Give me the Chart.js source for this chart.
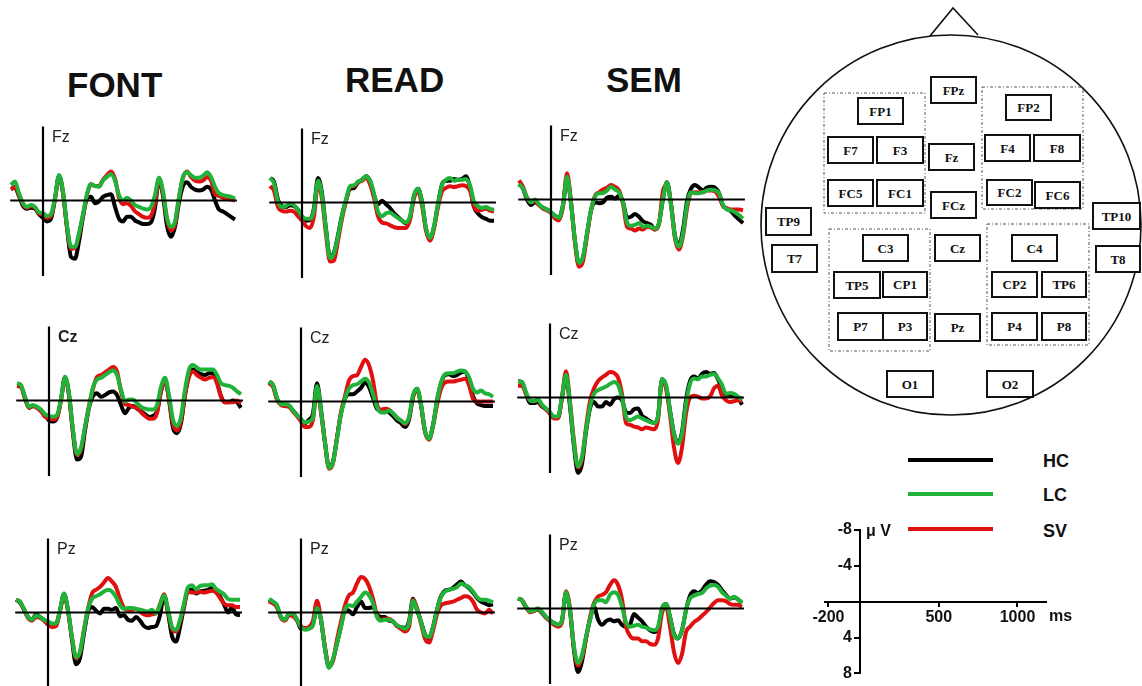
<!DOCTYPE html>
<html>
<head>
<meta charset="utf-8">
<script src="https://cdn.jsdelivr.net/npm/chart.js@4.4.1/dist/chart.umd.min.js"></script>
<style>
html,body{margin:0;padding:0;background:#fff;overflow:hidden;}
body{width:1142px;height:686px;position:relative;font-family:"Liberation Sans",Arial,sans-serif;}
.title{position:absolute;font-weight:bold;font-size:35px;line-height:35px;color:#111;white-space:nowrap;}
.lgline{position:absolute;width:85px;height:4px;}
.lgtxt{position:absolute;font-weight:bold;font-size:18px;line-height:20px;color:#111;}
.pan{position:absolute;}
</style>
</head>
<body>
<div class="title" style="left:67px;top:67px;">FONT</div>
<div class="title" style="left:345px;top:62px;">READ</div>
<div class="title" style="left:606px;top:62px;">SEM</div>

<svg id="head" width="1142" height="686" style="position:absolute;left:0;top:0;"></svg>

<div class="lgline" style="left:908px;top:458px;background:#000;"></div>
<div class="lgline" style="left:908px;top:492px;background:#1fb33a;"></div>
<div class="lgline" style="left:908px;top:527px;background:#e01010;"></div>
<div class="lgtxt" style="left:1043px;top:451px;">HC</div>
<div class="lgtxt" style="left:1043px;top:485px;">LC</div>
<div class="lgtxt" style="left:1043px;top:521px;">SV</div>

<script>
// ---------- DATA ----------
const times = [-200,-175,-150,-125,-100,-75,-50,-25,0,25,50,75,100,125,150,175,200,225,250,275,300,325,350,375,400,425,450,475,500,525,550,575,600,625,650,675,700,725,750,775,800,825,850,875,900,925,950,975,1000,1025,1050,1075,1100,1125,1150,1175,1200];

const conditions = ['FONT','READ','SEM'];
const electrodes = ['Fz','Cz','Pz'];
const groups = ['HC','LC','SV'];

// FONT
const fontFzLC = [-1.7,-2.1,-0.8,0.3,0.7,0.5,0.7,1.3,1.4,1.7, 1.5,-0.3,-2.8,-1.0,2.7,5.1,5.1,3.6,1.5,-0.7, -1.8,-1.6,-1.5,-2.2,-2.6,-2.9,-2.2,-0.6,0.0,-0.3, 0.0,0.5,0.7,0.9,1.0,0.7,-0.6,-2.5,-1.0,1.9, 2.9,2.3,-0.4,-2.6,-3.1,-2.8,-2.5,-2.5,-2.7,-3.1, -2.6,-1.5,-0.8,-0.6,-0.5,-0.4,-0.2];
const fontFzSV = [-1.2,-1.5,-0.6,0.4,0.8,0.6,0.8,1.4,1.6,1.9, 1.7,-0.2,-2.7,-0.9,2.9,5.3,5.2,3.8,1.6,-0.6, -1.8,-1.6,-1.6,-2.3,-2.8,-3.2,-2.4,-0.3,0.4,0.3, 0.6,1.2,1.5,1.8,1.9,1.7,0.2,-2.4,-0.8,2.1, 3.3,2.6,-0.3,-2.5,-3.2,-2.6,-2.2,-2.1,-2.2,-2.6, -2.2,-0.7,-0.5,-0.3,-0.2,-0.1,0.0];
const fontFzHC = [-1.3,-1.4,-0.5,0.6,0.9,0.8,0.9,1.5,1.9,2.3, 2.0,-0.2,-2.7,-0.8,3.0,6.2,6.4,4.5,1.8,-0.2, -0.4,0.3,0.1,-0.4,-0.6,-0.7,0.7,2.0,2.3,1.8, 1.8,2.2,2.4,2.6,2.6,2.4,0.8,-2.3,-0.5,2.8, 4.0,2.9,0.2,-1.6,-2.0,-1.5,-1.2,-1.1,-1.2,-1.5, -1.2,0.0,1.0,1.2,1.5,1.8,2.1];

const fontCzLC = [-1.9,-1.7,-0.4,0.7,0.5,0.7,1.0,1.5,1.7,1.8, 1.6,-0.1,-2.6,-0.8,3.2,5.9,5.2,2.9,0.7,-1.5, -2.3,-2.5,-2.8,-3.1,-3.3,-2.8,-1.2,0.1,-0.1,-0.1, 0.3,0.7,0.9,1.0,1.0,0.5,-1.5,-2.5,-0.6,2.1, 2.8,1.8,-1.2,-3.4,-3.9,-3.6,-3.4,-3.4,-3.4,-3.4, -2.8,-1.9,-1.7,-1.6,-1.4,-1.0,-0.7];
const fontCzSV = [-1.6,-1.5,-0.2,0.8,0.6,0.8,1.2,1.8,2.0,2.1, 1.9,0.0,-2.5,-0.6,3.4,6.0,5.4,3.0,0.6,-1.3, -2.6,-2.8,-3.1,-3.4,-3.7,-3.2,-1.0,0.4,0.5,0.7, 0.8,1.3,1.7,2.0,2.0,1.4,-1.1,-2.3,-0.2,2.6, 3.3,2.2,-0.6,-2.6,-3.2,-2.8,-2.5,-2.3,-2.5,-2.6, -1.9,-0.4,0.2,0.2,0.2,0.0,0.3];
const fontCzHC = [-1.6,-1.5,-0.3,0.8,0.6,0.8,1.1,1.6,2.2,2.3, 1.9,-0.1,-2.6,-0.6,3.6,6.5,6.2,3.3,0.8,-0.5, -0.8,-0.4,-0.6,-0.9,-1.0,-0.6,0.5,1.4,0.8,0.6, 0.9,1.2,1.5,1.8,1.7,1.2,-1.0,-2.2,-0.1,3.0, 3.6,2.5,-0.6,-2.7,-3.4,-3.1,-2.9,-2.8,-3.0,-3.0, -2.0,-0.5,0.2,0.2,0.0,0.2,0.8];

const fontPzLC = [-1.4,-1.2,-0.4,0.5,0.8,0.3,0.5,0.8,1.0,1.2, 1.2,-0.3,-2.1,-0.3,2.7,4.9,4.3,1.9,-0.4,-1.5, -1.8,-2.0,-2.3,-2.5,-2.3,-1.7,-0.8,-0.4,-0.5,-0.5, -0.4,-0.3,-0.2,-0.1,-0.3,0.1,-0.8,-1.9,-0.4,1.6, 1.9,0.8,-1.0,-2.8,-3.0,-2.6,-2.9,-3.0,-3.0,-3.1, -2.6,-2.3,-2.0,-1.5,-1.4,-1.4,-1.4];
const fontPzSV = [-1.4,-1.2,-0.3,0.6,0.9,0.5,0.6,0.9,1.3,1.6, 1.5,-0.2,-2.0,-0.2,2.8,5.0,4.4,1.9,-0.4,-2.1, -2.5,-2.8,-3.3,-3.8,-3.4,-2.8,-1.5,-0.5,-0.3,-0.3, -0.4,-0.1,0.2,0.3,0.2,0.1,-0.9,-2.0,-0.2,1.8, 2.1,1.0,-0.8,-2.3,-2.2,-2.2,-2.3,-2.2,-2.3,-2.4, -2.2,-1.6,-1.0,-0.8,-0.8,-0.6,-0.6];
const fontPzHC = [-1.4,-1.1,-0.3,0.5,0.8,0.2,0.5,0.8,1.3,1.5, 1.4,-0.2,-2.0,-0.2,3.0,5.7,5.0,2.3,-0.1,-0.6, -0.2,0.1,-0.4,-0.4,-0.3,-0.5,0.4,0.3,0.8,0.9, 0.5,0.9,1.5,1.7,1.6,1.5,0.3,-1.9,0.0,2.6, 3.2,1.6,-0.6,-2.4,-2.5,-2.1,-2.3,-2.4,-2.5,-2.7, -2.4,-1.8,-0.9,0.0,-0.6,0.2,0.3];

// READ
const readFzLC = [-2.7,-2.1,-0.1,0.5,0.4,0.1,0.3,0.8,1.5,1.8, 1.8,0.8,-2.4,-0.8,3.0,6.1,5.6,3.7,1.5,-0.3, -1.8,-1.9,-2.3,-2.5,-2.9,-2.4,-1.0,1.0,1.5,1.2, 1.1,1.4,1.7,2.0,2.2,1.5,-0.8,-1.5,-0.1,2.8, 3.9,2.6,0.1,-1.9,-2.5,-2.7,-2.4,-2.5,-2.5,-2.6, -1.9,-0.1,0.4,0.6,0.5,0.7,0.8];
const readFzSV = [-1.8,-1.3,0.5,0.9,1.0,0.9,1.0,1.5,2.0,2.6, 2.8,1.5,-2.0,-0.4,3.5,6.5,6.4,4.2,1.8,-0.1, -1.7,-1.8,-2.2,-2.4,-2.7,-2.0,-0.5,1.5,2.2,2.3, 2.5,2.7,2.8,2.8,2.8,1.9,-0.5,-1.2,0.3,3.1, 4.2,2.9,0.5,-1.2,-1.6,-1.8,-1.7,-1.8,-1.9,-1.8, -1.3,0.4,0.9,0.8,0.7,0.9,1.0];
const readFzHC = [-2.7,-2.3,-0.3,0.4,0.5,0.3,0.4,0.8,1.6,2.0, 1.9,0.6,-2.7,-1.0,2.9,6.0,5.5,3.6,1.4,-0.2, -1.5,-1.6,-2.2,-2.5,-2.9,-2.4,-0.8,0.2,-0.2,0.2, 0.6,1.2,1.6,2.0,2.3,1.7,-0.7,-1.5,-0.1,2.9, 4.0,2.7,0.2,-2.0,-2.4,-2.4,-2.6,-2.5,-2.6,-2.9, -1.7,0.5,1.2,1.6,1.8,2.0,2.0];

const readCzLC = [-2.2,-1.8,-0.4,0.3,0.3,0.4,1.0,1.5,1.9,2.3, 2.2,1.7,-1.7,1.0,4.5,7.3,6.7,4.1,1.4,-0.3, -1.4,-1.8,-1.9,-2.2,-2.5,-2.1,-0.8,0.6,1.2,1.2, 1.0,1.3,1.8,2.1,2.4,1.7,-0.7,-1.4,0.3,3.2, 4.1,2.6,-0.1,-2.1,-3.0,-3.1,-3.1,-3.3,-3.4,-3.3, -2.7,-1.4,-1.0,-1.2,-0.9,-0.8,-0.5];
const readCzSV = [-2.0,-1.6,-0.2,0.4,0.5,0.6,1.1,1.6,2.2,2.8, 2.8,2.0,-1.3,1.2,4.6,7.4,6.8,4.0,1.2,-0.6, -2.3,-2.8,-2.9,-3.8,-4.6,-4.0,-2.3,0.3,0.9,0.8, 0.9,1.3,1.8,2.1,2.5,1.8,-0.5,-1.3,0.4,3.3, 4.2,2.7,0.4,-1.4,-2.1,-2.2,-2.2,-2.3,-2.4,-2.5, -1.8,-0.3,0.0,0.0,0.0,0.0,0.0];
const readCzHC = [-2.2,-1.8,-0.3,0.3,0.4,0.5,1.0,1.5,2.0,2.4, 2.0,1.3,-2.0,0.9,4.5,7.2,6.6,4.0,1.3,-0.3, -0.8,-0.8,-1.1,-1.5,-2.1,-1.6,-0.4,0.8,1.0,1.0, 1.2,1.6,2.1,2.4,2.8,2.0,-0.5,-1.4,0.4,3.3, 4.1,2.6,-0.1,-2.0,-2.9,-3.0,-2.8,-2.9,-3.2,-3.3, -2.3,-0.6,0.2,0.4,0.5,0.5,0.5];

const readPzLC = [-1.5,-1.2,-0.8,0.5,0.8,0.1,0.1,0.8,1.6,1.9, 1.8,1.4,-0.5,0.8,4.0,6.1,5.1,3.4,1.6,-0.3, -0.8,-0.7,-1.2,-1.7,-2.2,-1.9,-1.0,0.5,0.9,0.8, 0.8,1.0,1.4,1.6,1.8,1.2,-1.3,-0.3,1.0,2.5, 2.7,1.6,-0.3,-1.7,-2.3,-2.5,-2.6,-2.8,-3.2,-3.0, -2.8,-2.3,-1.7,-1.4,-1.4,-1.3,-1.1];
const readPzSV = [-1.2,-1.0,-0.6,0.6,0.9,0.3,0.4,0.9,1.5,1.7, 1.6,0.9,-1.3,0.8,3.8,5.9,5.3,3.0,1.0,-0.8, -1.9,-2.2,-3.2,-3.9,-3.7,-2.9,-1.5,0.3,0.8,0.7, 0.7,1.0,1.5,1.8,2.1,1.6,-1.4,-0.5,1.2,2.9, 3.3,2.0,0.2,-0.8,-1.0,-1.1,-1.2,-1.4,-1.6,-1.8, -1.7,-1.2,-0.3,0.0,0.1,-0.3,0.1];
const readPzHC = [-1.4,-1.1,-0.6,0.5,0.8,0.2,0.2,0.8,1.8,1.8, 1.7,1.2,-0.4,0.8,4.0,6.0,5.2,3.4,1.5,-0.3, -0.2,0.2,-0.6,-1.2,-0.5,-0.5,-0.6,0.2,0.5,0.5, 0.9,1.0,1.5,1.6,1.7,1.0,-1.5,-0.3,1.0,2.4, 2.8,1.6,-0.3,-1.8,-2.4,-2.5,-2.7,-3.1,-3.4,-3.0, -2.7,-2.2,-1.6,-1.2,-1.0,-0.8,-0.9];

// SEM
const semFzLC = [-1.7,-1.2,-0.2,0.3,0.0,0.5,0.9,1.1,1.4,1.8, 2.0,0.6,-2.5,0.4,4.5,7.0,6.3,3.7,1.2,-0.3, -0.7,-0.7,-1.0,-1.4,-1.1,-0.8,0.3,2.5,2.9,2.8, 2.6,3.0,2.9,3.0,3.2,2.6,-0.1,-1.9,0.6,4.1, 5.2,3.7,0.6,-0.8,-0.7,-0.7,-0.8,-1.0,-1.1,-1.0, -0.7,0.6,1.1,1.2,1.4,1.7,2.1];
const semFzSV = [-2.1,-1.4,-0.2,0.3,0.2,0.6,1.0,1.2,1.5,2.1, 2.3,0.8,-2.9,0.2,4.8,7.4,6.8,4.0,1.2,-0.4, -0.8,-1.1,-1.3,-1.6,-1.4,-1.0,0.5,3.0,3.2,3.4, 3.2,3.3,3.0,3.1,3.3,2.7,-1.0,-1.6,0.5,4.3, 5.5,4.0,1.0,-0.7,-0.8,-0.8,-0.8,-1.0,-1.0,-0.9, -0.3,0.7,1.0,1.1,1.1,1.1,1.2];
const semFzHC = [-1.7,-1.2,0.0,0.6,0.3,0.6,0.9,1.1,1.4,1.8, 2.0,0.6,-2.4,0.4,4.6,7.2,6.4,3.8,1.2,0.3, 0.4,0.3,-0.2,-0.3,-0.1,-0.4,0.3,2.0,1.9,1.6, 1.9,2.4,2.6,2.8,3.3,2.6,-0.1,-1.9,0.5,4.0, 5.0,3.3,0.2,-1.2,-1.6,-1.3,-1.0,-1.3,-1.4,-1.3, -0.7,0.7,1.0,1.3,1.8,2.2,2.6];

const semCzLC = [-1.8,-1.7,-0.6,0.3,0.4,0.2,0.8,1.2,1.6,2.1, 2.1,-0.1,-2.5,0.7,5.1,7.6,6.5,3.6,1.0,-0.4, -0.8,-1.0,-1.2,-1.5,-1.7,-1.4,0.0,2.1,2.5,2.3, 2.1,2.3,2.5,2.7,2.8,2.1,-2.0,-1.4,1.4,4.0, 5.1,4.0,0.7,-1.5,-2.1,-2.0,-2.3,-2.3,-2.5,-2.6, -2.1,-1.4,-0.4,-0.5,-0.4,-0.1,0.2];
const semCzSV = [-1.3,-1.3,-0.4,0.3,0.4,0.3,0.9,1.3,1.8,2.3, 2.3,0.0,-2.9,0.5,4.8,7.7,6.8,3.3,0.4,-1.0, -1.8,-2.2,-2.5,-2.8,-2.7,-2.2,-0.4,2.8,3.0,3.2, 3.3,3.5,3.3,3.4,3.5,2.5,-2.0,-1.0,1.9,5.5, 7.2,5.5,1.8,0.0,-0.2,-0.1,0.1,0.1,-0.1,-1.0, -1.3,-0.2,0.3,0.5,0.4,0.3,0.4];
const semCzHC = [-1.8,-1.7,-0.4,0.6,0.6,0.5,1.0,1.3,1.7,2.2, 2.2,0.0,-2.3,1.0,5.4,8.3,7.3,3.8,1.2,0.5, 1.0,1.0,0.5,0.8,0.2,0.0,0.3,1.6,1.7,1.3, 1.2,2.0,2.3,2.6,2.8,2.1,-2.0,-1.2,1.4,4.0, 5.0,3.8,0.3,-1.8,-2.3,-2.1,-2.6,-2.8,-2.6,-2.7, -2.0,-1.0,-0.3,-0.3,-0.2,0.0,0.8];

const semPzLC = [-1.1,-0.9,-0.2,0.3,0.2,0.0,0.4,0.9,1.3,1.6, 1.8,1.3,-1.8,0.2,4.2,6.0,5.1,3.1,1.3,-0.4, -0.9,-0.9,-0.7,-1.5,-1.8,-1.5,-0.2,1.5,2.0,1.9, 1.8,2.0,2.1,2.3,2.4,2.0,0.0,-0.5,0.9,2.9, 3.3,2.4,0.2,-1.1,-1.4,-1.6,-1.7,-2.2,-2.5,-2.6, -2.4,-1.8,-1.4,-1.1,-1.3,-1.0,-0.6];
const semPzSV = [-1.1,-0.9,-0.2,0.4,0.3,0.0,0.4,1.0,1.4,1.8, 2.0,1.5,-1.9,0.0,4.4,6.3,5.4,3.3,1.0,-0.6, -1.3,-1.5,-1.8,-2.6,-3.1,-2.6,-1.0,2.0,3.0,3.3, 3.3,3.6,3.6,3.9,4.0,3.3,0.5,-0.2,2.0,4.8, 6.0,5.0,2.6,2.0,1.5,1.2,0.8,0.4,-0.1,-0.6, -0.9,-0.9,-0.8,-0.5,-0.4,-0.4,-0.2];
const semPzHC = [-1.1,-0.9,-0.1,0.3,0.2,0.1,0.5,1.0,1.3,1.6, 1.8,1.3,-1.7,0.3,4.6,7.0,5.8,3.3,1.2,-0.2, 1.2,1.8,1.4,1.2,1.4,1.3,1.8,2.0,1.8,0.6, 1.0,1.4,2.0,2.4,2.6,2.3,0.0,-0.5,0.9,2.8, 3.3,2.4,0.2,-1.4,-1.9,-1.7,-2.0,-2.6,-3.0,-2.9, -2.6,-2.0,-1.5,-1.1,-1.2,-1.0,-0.6];

// calibration scale
const scaleTimeTicks = [-200, 500, 1000];
const scaleVoltTicks = [-8, -4, 4, 8];

// ---------- LAYOUT ----------
const COLORS = {HC:'#000000', LC:'#1fb33a', SV:'#e01010'};
const panels = [
  {label:'Fz', bold:false, x0:43.3,  y0:200.7, HC:fontFzHC, LC:fontFzLC, SV:fontFzSV},
  {label:'Fz', bold:false, x0:302.3, y0:202.7, HC:readFzHC, LC:readFzLC, SV:readFzSV},
  {label:'Fz', bold:false, x0:550.7, y0:199.3, HC:semFzHC,  LC:semFzLC,  SV:semFzSV},
  {label:'Cz', bold:true,  x0:49.0,  y0:400.7, HC:fontCzHC, LC:fontCzLC, SV:fontCzSV},
  {label:'Cz', bold:false, x0:300.7, y0:401.0, HC:readCzHC, LC:readCzLC, SV:readCzSV},
  {label:'Cz', bold:false, x0:550.0, y0:397.3, HC:semCzHC,  LC:semCzLC,  SV:semCzSV},
  {label:'Pz', bold:false, x0:48.3,  y0:612.3, HC:fontPzHC, LC:fontPzLC, SV:fontPzSV},
  {label:'Pz', bold:false, x0:301.0, y0:612.3, HC:readPzHC, LC:readPzLC, SV:readPzSV},
  {label:'Pz', bold:false, x0:550.0, y0:608.3, HC:semPzHC,  LC:semPzLC,  SV:semPzSV}
];

const PAD = 6, PXW = 224, PXH = 149;
const axisPlugin = {
  id:'erpAxes',
  afterDatasetsDraw(chart, args, opts){
    const ctx = chart.ctx, xs = chart.scales.x, ys = chart.scales.y;
    const zx = xs.getPixelForValue(0), zy = ys.getPixelForValue(0);
    ctx.save();
    ctx.strokeStyle = '#000'; ctx.lineWidth = 2.2; ctx.lineCap = 'butt';
    ctx.beginPath();
    ctx.moveTo(xs.getPixelForValue(-205), zy); ctx.lineTo(xs.getPixelForValue(1212), zy);
    ctx.moveTo(zx, ys.getPixelForValue(-8.15)); ctx.lineTo(zx, ys.getPixelForValue(8.3));
    ctx.stroke();
    ctx.fillStyle = '#222';
    ctx.font = (opts.bold ? 'bold ' : '') + '16px "Liberation Sans", Arial, sans-serif';
    ctx.textBaseline = 'alphabetic'; ctx.textAlign = 'left';
    ctx.fillText(opts.label, zx + 9, zy - 59);
    ctx.restore();
  }
};

panels.forEach(p => {
  const div = document.createElement('div');
  div.className = 'pan';
  div.style.left = Math.round(p.x0 - 32 - PAD) + 'px';
  div.style.top = Math.round(p.y0 - 74.5 - PAD) + 'px';
  div.style.width = (PXW + 2*PAD) + 'px';
  div.style.height = (PXH + 2*PAD) + 'px';
  const cv = document.createElement('canvas');
  div.appendChild(cv);
  document.body.appendChild(div);
  const ds = ['LC','SV','HC'].map(g => ({
    label: g,
    data: times.map((t,i) => ({x:t, y:p[g][i]})),
    borderColor: COLORS[g],
    borderWidth: 4,
    pointRadius: 0,
    fill: false,
    cubicInterpolationMode: 'monotone',
    clip: 8
  }));
  new Chart(cv, {
    type:'line',
    data:{datasets:ds},
    options:{
      responsive:true, maintainAspectRatio:false, animation:false, events:[],
      layout:{padding:PAD},
      plugins:{legend:{display:false}, tooltip:{enabled:false}, erpAxes:{label:p.label, bold:p.bold}},
      scales:{
        x:{type:'linear', min:-200, max:1200, display:false},
        y:{type:'linear', min:-8.2, max:8.2, reverse:true, display:false}
      }
    },
    plugins:[axisPlugin]
  });
});

// ---------- calibration scale ----------
(function(){
  const div = document.createElement('div');
  div.className = 'pan';
  const padL = 45, padR = 40, padT = 12, padB = 8;
  div.style.left = (825 - padL) + 'px';
  div.style.top = (530 - padT) + 'px';
  div.style.width = (221 + padL + padR) + 'px';
  div.style.height = (147 + padT + padB) + 'px';
  const cv = document.createElement('canvas');
  div.appendChild(cv);
  document.body.appendChild(div);
  const tickFont = {family:'"Liberation Sans", Arial, sans-serif', weight:'bold', size:16};
  const extra = {
    id:'scaleExtra',
    afterDraw(chart){
      const ctx = chart.ctx, xs = chart.scales.x, ys = chart.scales.y;
      ctx.save();
      ctx.fillStyle = '#111';
      ctx.font = 'bold 16px "Liberation Sans", Arial, sans-serif';
      ctx.textAlign = 'left'; ctx.textBaseline = 'top';
      ctx.fillText('ms', xs.right + 3, ys.getPixelForValue(0) + 7);
      ctx.textBaseline = 'middle';
      ctx.fillText('\u03bc V', xs.getPixelForValue(0) + 6, ys.getPixelForValue(-8) + 2);
      ctx.restore();
    }
  };
  new Chart(cv, {
    type:'line',
    data:{datasets:[]},
    options:{
      responsive:true, maintainAspectRatio:false, animation:false, events:[],
      layout:{padding:{left:padL, right:padR, top:padT, bottom:padB}},
      plugins:{legend:{display:false}, tooltip:{enabled:false}},
      scales:{
        x:{type:'linear', min:-222, max:1181, position:{y:0},
           afterBuildTicks: s => { s.ticks = scaleTimeTicks.map(v => ({value:v})); },
           ticks:{font:tickFont, color:'#111', padding:2, autoSkip:false, maxRotation:0, callback:v => String(v)},
           grid:{drawOnChartArea:false, drawTicks:true, tickLength:4, color:'#000', lineWidth:2},
           border:{display:true, color:'#000', width:2}},
        y:{type:'linear', min:-8, max:8, reverse:true, position:{x:0},
           afterBuildTicks: s => { s.ticks = scaleVoltTicks.map(v => ({value:v})); },
           ticks:{font:tickFont, color:'#111', padding:2, autoSkip:false, callback:v => String(v) + '\u2002'},
           grid:{drawOnChartArea:false, drawTicks:true, tickLength:5, color:'#000', lineWidth:2},
           border:{display:true, color:'#000', width:2}}
      }
    },
    plugins:[extra]
  });
})();

// ---------- head map ----------
const electrodeLabels = ['FPz','FP1','FP2','F7','F3','Fz','F4','F8','FC5','FC1','FCz','FC2','FC6','TP9','T7','TP10','T8','C3','Cz','C4','TP5','CP1','CP2','TP6','P7','P3','Pz','P4','P8','O1','O2'];
const electrodeBoxes = [[931,77,976,103],[858,98,903,124],[1006,95,1051,120],[828,137,873,163],[877,137,923,163],[929,144,974,170],[985,135,1030,161],[1034,135,1080,161],[828,180,873,206],[877,180,923,206],[931,192,976,218],[987,180,1032,205],[1035,182,1080,208],[766,208,811,235],[772,245,817,272],[1093,203,1140,229],[1096,246,1140,272],[863,235,908,261],[935,235,980,261],[1012,235,1057,261],[834,272,880,298],[883,272,927,297],[992,272,1037,297],[1042,272,1086,297],[838,313,883,340],[883,313,927,340],[935,314,980,341],[992,313,1037,340],[1042,313,1086,340],[887,371,933,397],[987,371,1033,397]];
const regionBoxes = [[824,93,925,213],[982,87,1083,209],[829,229,930,351],[987,224,1089,345]];
(function(){
  const svg = document.getElementById('head');
  const NS = 'http://www.w3.org/2000/svg';
  function el(tag, attrs, text){ const e = document.createElementNS(NS, tag); for (const k in attrs) e.setAttribute(k, attrs[k]); if (text) e.textContent = text; svg.appendChild(e); return e; }
  el('circle', {cx:951, cy:225, r:190, fill:'none', stroke:'#111', 'stroke-width':1.6});
  el('polyline', {points:'930,36 953,8 978,35', fill:'none', stroke:'#111', 'stroke-width':1.6});
  regionBoxes.forEach(b => el('rect', {x:b[0], y:b[1], width:b[2]-b[0], height:b[3]-b[1], fill:'none', stroke:'#555', 'stroke-width':1, 'stroke-dasharray':'3 2 1 2'}));
  electrodeBoxes.forEach((b,i) => {
    el('rect', {x:b[0], y:b[1], width:b[2]-b[0], height:b[3]-b[1], fill:'#fff', stroke:'#111', 'stroke-width':2});
    el('text', {x:(b[0]+b[2])/2, y:(b[1]+b[3])/2 + 4.5, 'text-anchor':'middle', 'font-family':'"Liberation Serif", "Times New Roman", serif', 'font-weight':'bold', 'font-size':'13', fill:'#111'}, electrodeLabels[i]);
  });
})();
</script>
</body>
</html>
